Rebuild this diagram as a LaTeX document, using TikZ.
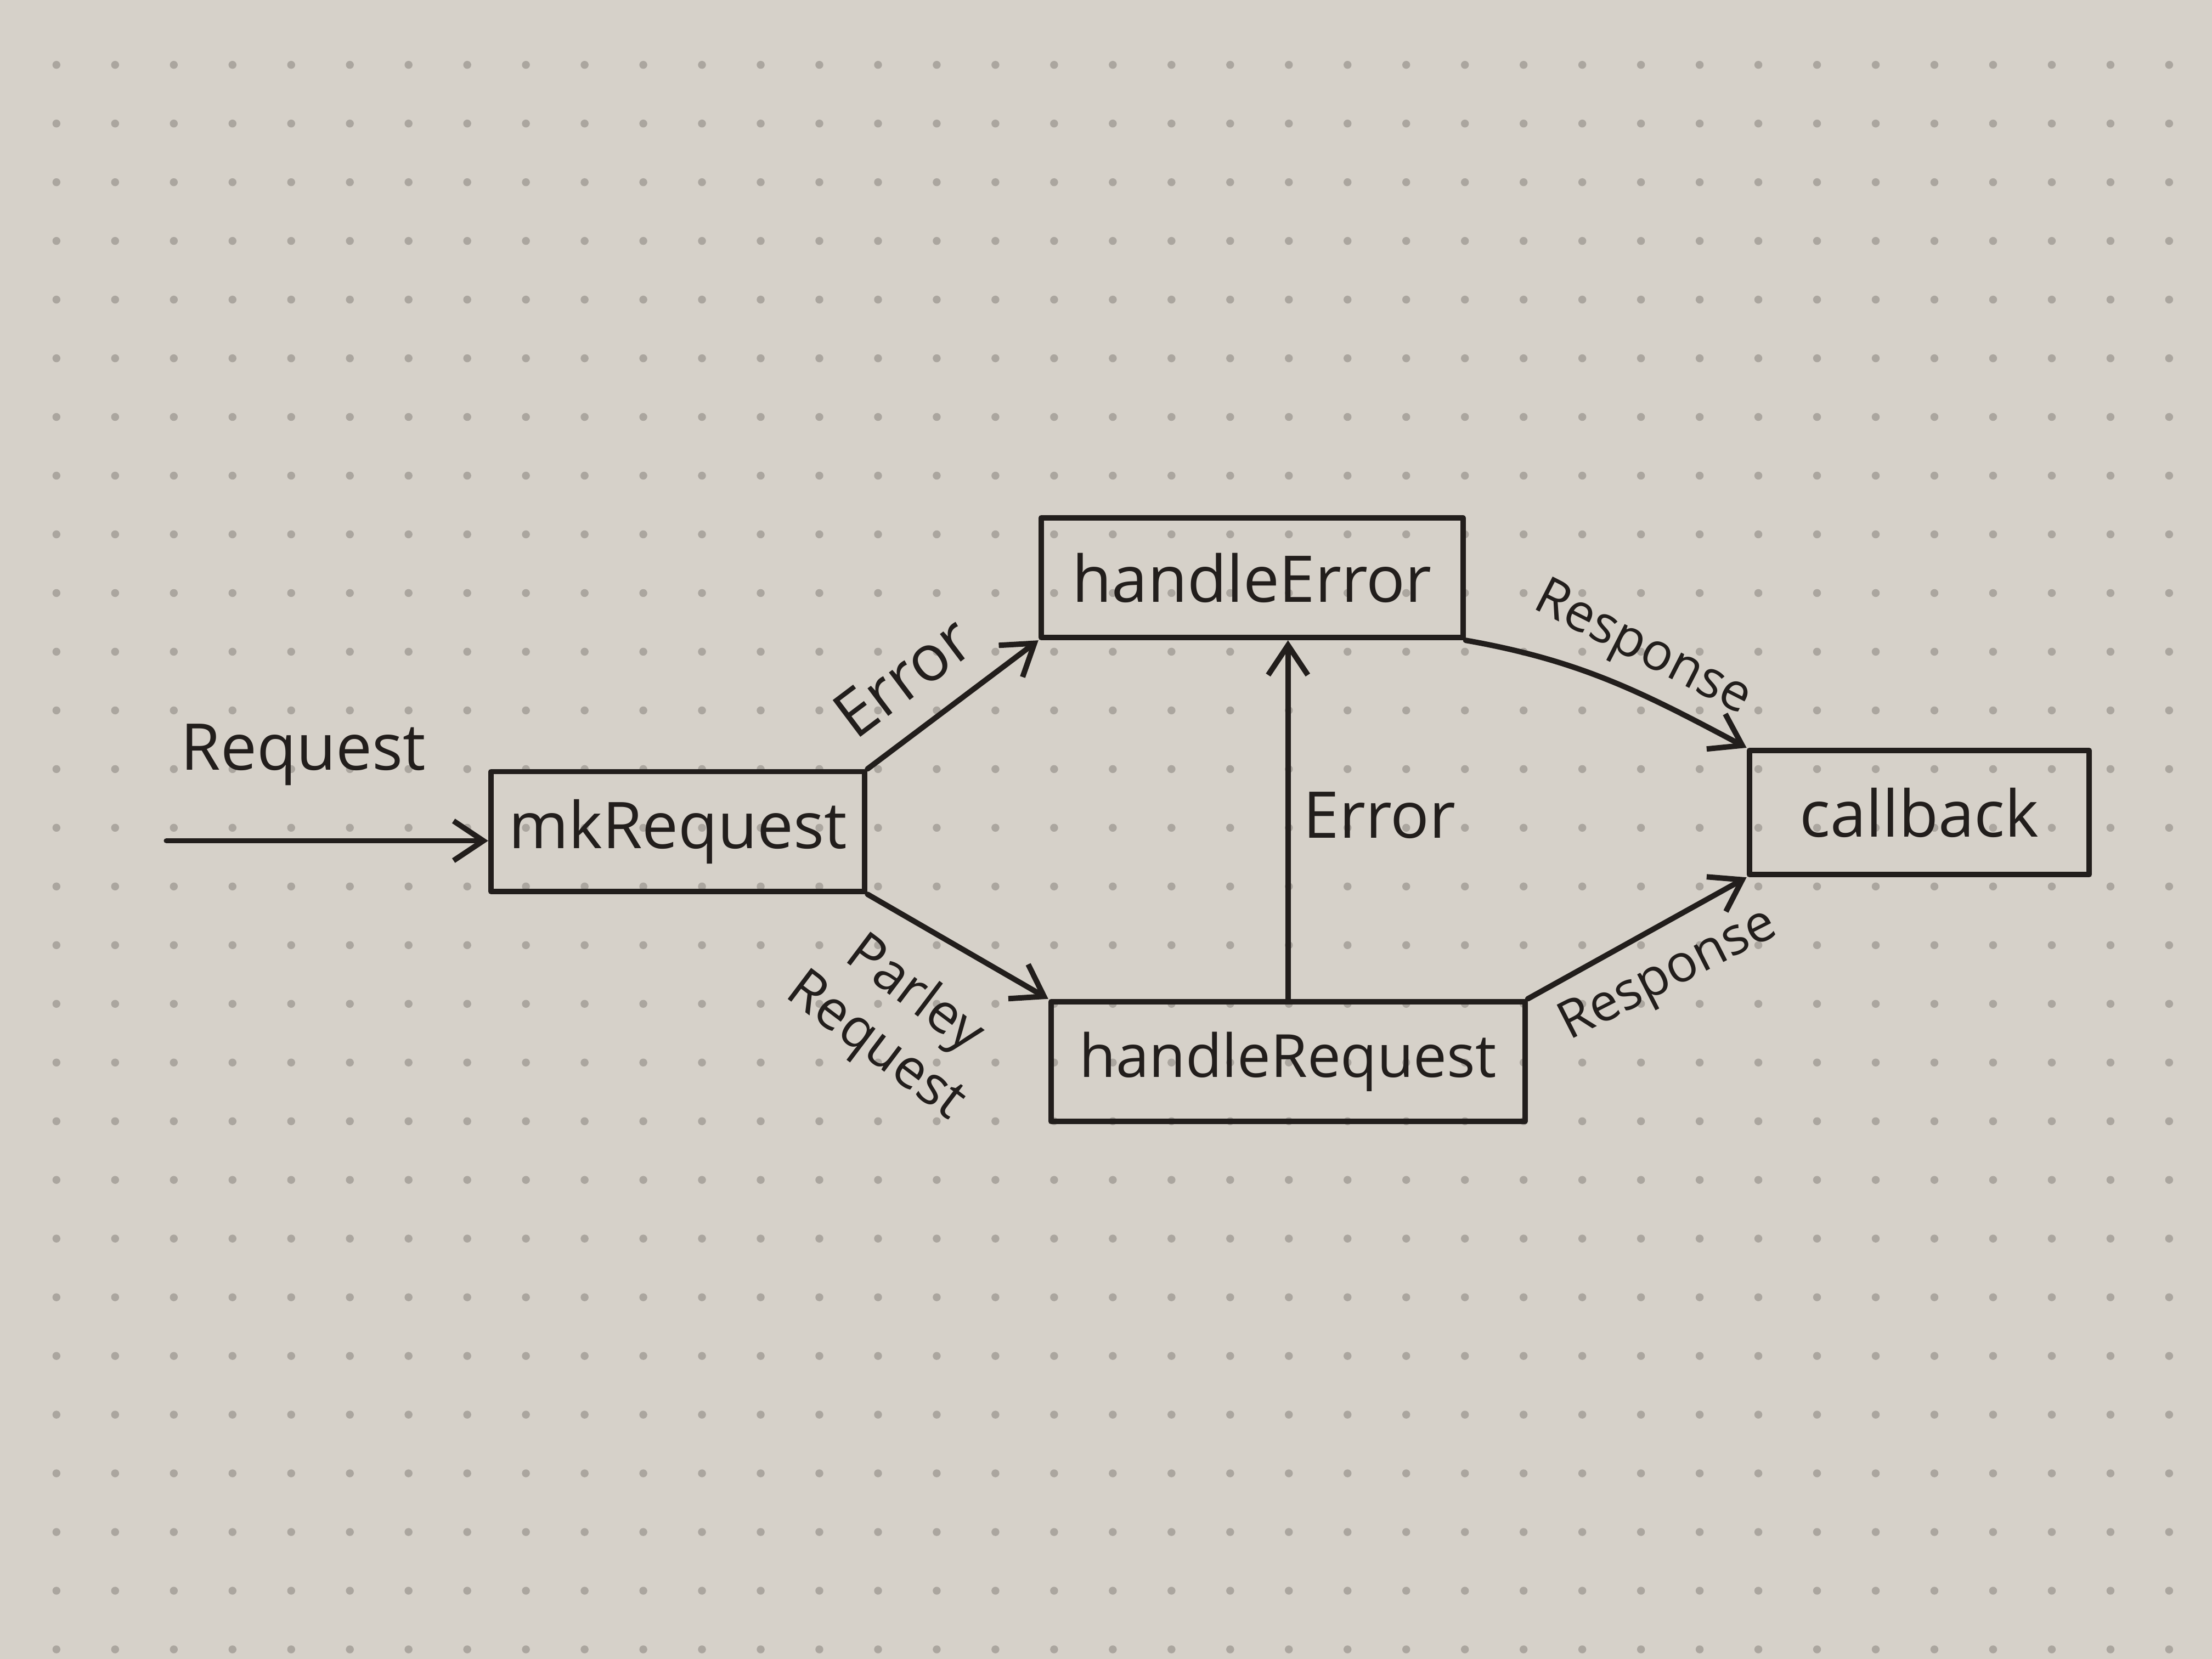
\documentclass[tikz,border=0pt]{standalone}
\usepackage{fontspec}
\setmainfont{Open Sans}
\usetikzlibrary{arrows.meta}
\definecolor{paper}{HTML}{D6D1C9}
\definecolor{dotgray}{HTML}{ABA69F}
\definecolor{ink}{HTML}{221E1C}
\begin{document}
\begin{tikzpicture}[font=\fontsize{13}{15}\selectfont, line join=round, line cap=round,
	>={Straight Barb[length=6pt,width=8pt]}, line width=1.1pt, ink,
	box/.style={draw, inner sep=0pt, minimum height=0.85cm},
	lbl/.style={inner sep=1pt},
	smalllbl/.style={inner sep=1pt, font=\fontsize{10.5}{12}\selectfont}]
	\fill[paper] (0,0) rectangle (15.68,11.76);
	\useasboundingbox (0,0) rectangle (15.68,11.76);
	% dotted paper
	\foreach \i in {0,...,36}
		\foreach \j in {0,...,27}
			{\fill[dotgray] (0.40+0.416*\i,11.30-0.416*\j) circle (0.8pt);}
	\path
	(1.18,5.80) coordinate (in)
	;
	\node[box, minimum width=2.65cm] (mk) at (4.805,5.865) {mkRequest};
	\node[box, minimum width=2.99cm] (he) at (8.875,7.665) {handleError};
	\node[box, minimum width=3.36cm, font=\fontsize{12}{14}\selectfont] (hr) at (9.13,4.235) {handleRequest};
	\node[box, minimum width=2.41cm, minimum height=0.88cm] (cb) at (13.605,6.00) {callback};
	\draw[->] (in) -- (in -| mk.west);
	\draw[->] (mk.north east) -- (he.south west);
	\draw[->] (mk.south east) -- (hr.north west);
	\draw[->] (hr.north) -- (hr.north |- he.south);
	\draw[->] (he.south east) to[out=-10, in=152] (cb.north west);
	\draw[->] (hr.north east) -- (cb.south west);
	\node[lbl] (reqin) at (2.15,6.41) {Request};
	\node[lbl, rotate=37] (errup) at (6.40,6.96) {Error};
	\node[lbl] (errmid) at (9.78,5.98) {Error};
	\node[lbl, rotate=-37, align=center, font=\fontsize{11}{13}\selectfont] (parley) at (6.34,4.52) {Parley\\Request};
	\node[smalllbl, rotate=-27] (resup) at (11.64,7.15) {Response};
	\node[smalllbl, rotate=27] (resdn) at (11.83,4.84) {Response};
\end{tikzpicture}
\end{document}
